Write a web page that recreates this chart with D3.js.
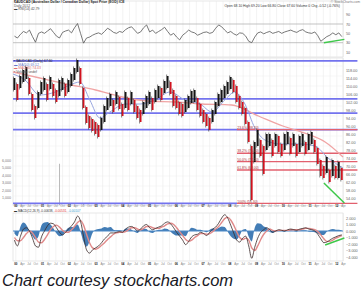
<!DOCTYPE html>
<html>
<head>
<meta charset="utf-8">
<script src="https://cdn.jsdelivr.net/npm/d3@7"></script>
<style>
    html, body {margin: 0; padding: 0; background: #fff;}
    svg {display: block; font-family: "Liberation Sans", Arial, sans-serif;}
</style>
</head>
<body>
<div id="chart"></div>
<script>
// ---- data ----
// price bars (one bar every 41 days from Dec 1999), high / low
var barHigh = [114,111,115,118,119.5,114,106,100,107,112,114,111,114.5,111,108,113,114,111,113,116,
    119,123,119,109,99.5,95,93.5,92,90.5,94,100,104,106,103,107,104.5,101,107,104,107,
    103,100,98,102,105,107,104,108,110,109,112.5,115,112,108,105,102,101,103,105,107.5,
    108,104,101,98,96,94,98,102,106,108,110,112,114.5,113,110,105,102,99,92,80,
    82,88,83,80,86,86,83,86,85,81,86,87,84,86,81,85,86,82,86,87,
    83,79,73,70,74.5,68,73,70,72,69];
var barLow = [108,103,109,112,113.5,106,98,94,99,106,108,103,108.5,105,102,105,108,105,107,110,
    113,117,111,99,91.5,89,87.5,86,84.5,88,92,98,100,97,101,98.5,95,99,98,101,
    97,94,92,96,99,101,98,102,104,103,106.5,109,106,100,99,96,95,97,99,101.5,
    102,98,95,92,90,88,92,96,100,102,104,106,108.5,107,102,99,96,91,82,53,
    72,80,75,66,78,80,75,80,77,75,78,81,76,80,75,77,80,76,78,81,
    77,71,65,64,66.5,62,65,64,64,63];
var volIdx = [15, 23, 78, 79];
var volVal = [5500, 150, 200, 300];

// moving averages (anchor dates + values)
var ma200Dates = ["1999-12-01","2000-12-01","2001-12-01","2003-01-01","2004-01-01","2004-12-15","2006-01-15",
    "2006-12-25","2008-02-01","2009-02-01","2010-01-01","2010-12-01","2011-08-01","2012-04-01"];
var ma200 = [117,114,111,108,104.5,102.5,102,101,100.5,95,90,86,82,74.5];
var ma50Dates = ["1999-12-01","2000-05-12","2000-12-01","2001-07-01","2002-01-15","2002-06-01","2002-10-15",
    "2003-03-01","2003-07-15","2004-02-10","2004-09-01","2005-03-20","2005-10-15","2006-05-05","2006-11-28",
    "2007-05-10","2007-11-01","2008-03-15","2008-08-01","2008-12-15","2009-05-01","2009-11-25","2010-08-20",
    "2011-03-15","2011-09-10","2012-04-01"];
var ma50 = [116,113,105.5,107,110.5,112,103,94,97,101,101,103,107,103,101,97,103,107,101,89,83,81,81,80,74,69];

// horizontal levels
var blueLevels = [122.6, 103.6, 96.4, 88.2];
var blueLow = 51.3;
var redLevels = [88.2, 76.4, 72.2, 68.0, 51.3];
var fibNames = ["23.6%", "38.2%", "50.0%", "61.8%", "100%"];
var trendMain = [["2011-07-15", 61.5], ["2012-04-20", 51.5]];

// RSI(14)
var rsi = [44,40,48,54,51,57,43,31,50,53,50,55,60,52,44,40,52,55,57,51,
    62,71,50,29,40,42,46,49,51,48,54,61,57,52,50,54,52,58,62,64,
    57,50,53,62,68,53,57,50,54,58,63,54,46,50,42,36,46,51,57,53,
    51,46,49,52,53,50,52,61,68,64,57,51,54,49,46,51,50,44,33,30,
    42,51,53,49,52,54,50,52,54,50,53,55,57,54,52,56,58,53,51,50,
    53,45,33,38,43,46,51,47,51,43];
var rsiTicks = [90, 70, 50, 30, 10];
var trendRsi = [["2011-07-15", 30], ["2012-04-20", 37]];

// MACD(12,26,9)
var macd = [-1.4,-2.3,-0.8,0.3,0.5,0,-1.1,-2.3,-2.5,-0.9,0,0.8,1.2,1.1,0.5,-0.2,-0.6,-0.2,0.3,0.8,
    1.4,2.3,1.5,-0.8,-2.9,-3.4,-2.9,-2.6,-2.3,-1.8,-1.2,-0.8,-0.3,-0.3,-0.2,-0.1,-0.2,0.3,0.6,0.7,
    0.4,0,0.3,0.8,1.0,0.5,0.2,0.4,0.6,0.8,1.2,1.4,1.1,0.5,-0.2,-0.8,-1.4,-2.1,-1.6,-0.9,
    -0.6,-0.5,-0.2,-0.4,-0.7,-0.2,0.3,0.6,1.2,2.0,2.5,2.0,0.9,-0.3,-1.4,-1.7,-1.1,-0.8,-2.3,-4.2,
    -2.5,-1.1,-0.2,0.2,0.5,0.2,-0.2,0,0.2,0.1,0,0.2,0.3,0.2,0.1,0.3,0.4,0.5,0.3,0.2,
    0,-0.5,-1.2,-1.8,-1.7,-1.4,-1.1,-0.9,-0.7,-0.6];
var signal = [-1.0,-1.5,-1.5,-1.0,-0.4,0,-0.3,-1.0,-1.7,-1.8,-1.3,-0.6,0.2,0.7,0.9,0.6,0.1,-0.2,-0.2,0.2,
    0.7,1.3,1.6,0.9,-0.5,-1.8,-2.6,-2.8,-2.6,-2.2,-1.8,-1.3,-0.9,-0.5,-0.3,-0.2,-0.2,-0.1,0.2,0.5,
    0.5,0.3,0.2,0.4,0.7,0.7,0.5,0.4,0.4,0.6,0.8,1.1,1.2,1.0,0.5,-0.1,-0.7,-1.3,-1.6,-1.4,
    -1.0,-0.7,-0.4,-0.4,-0.5,-0.4,-0.1,0.3,0.7,1.3,1.9,2.1,1.7,0.9,-0.1,-1.0,-1.3,-1.1,-1.4,-2.6,
    -3.0,-2.3,-1.3,-0.5,0,0.3,0.1,0,0.1,0.1,0.1,0.1,0.2,0.2,0.2,0.2,0.3,0.4,0.4,0.3,
    0.2,-0.1,-0.6,-1.2,-1.6,-1.6,-1.4,-1.1,-0.9,-0.7];
var macdTicks = [2, 1, 0, -1, -2, -3, -4];
var trendMacd = [["2011-08-01", -2.15], ["2012-04-20", -1.08]];

var volTicks = [1000, 2000, 3000, 4000, 5000, 6000];

window.onload = function () {
    var W = 364, H = 291;
    var left = 13, right = 343;
    var parse = d3.timeParse("%Y-%m-%d");

    var svg = d3.select("#chart").append("svg")
        .attr("width", W).attr("height", H);

    var x = d3.scaleTime()
        .domain([new Date(1999, 11, 1), new Date(2012, 3, 1)])
        .range([left, right]);
    var lineEnd = new Date(2012, 9, 15);
    var barDates = d3.range(barHigh.length).map(function (i) {
        return d3.timeDay.offset(new Date(1999, 11, 21), i * 41);
    });

    // panels
    var rsiTop = 1, rsiBot = 57, mTop = 58, mBot = 205.5, cTop = 213, cBot = 261;
    var yR = d3.scaleLinear().domain([0, 100]).range([56.7, 10]);
    var yP = d3.scaleLinear().domain([50, 124]).range([206, 58]);
    var yV = d3.scaleLinear().domain([0, 6000]).range([205, 160]);
    var yM = d3.scaleLinear().domain([0, 1]).range([231, 224.5]);

    function panel(t, b) {
        var g = svg.append("g");
        g.append("rect").attr("x", left).attr("y", t).attr("width", right - left).attr("height", b - t)
            .attr("fill", "#fff").attr("stroke", "#d8d8d8").attr("stroke-width", 0.6);
        // vertical grid, one line per quarter
        g.append("g")
            .attr("transform", "translate(0," + b + ")")
            .call(d3.axisBottom(x).ticks(d3.timeMonth.every(3)).tickSize(-(b - t)).tickFormat(""))
            .call(function (a) {
                a.select(".domain").remove();
                a.selectAll("text").remove();
                a.selectAll("line").attr("stroke", "#e6e6e6").attr("stroke-width", 0.5);
            });
        return g;
    }
    function dateLabels(yy) {
        svg.append("g")
            .attr("transform", "translate(0," + yy + ")")
            .call(d3.axisBottom(x).ticks(d3.timeMonth.every(3)).tickSize(0).tickPadding(0)
                .tickFormat(function (d) {
                    return d.getMonth() === 0 ? d3.timeFormat("%y")(d) : d3.timeFormat("%b")(d);
                }))
            .call(function (a) {
                a.select(".domain").remove();
                a.selectAll("text").attr("font-size", 2.9).attr("font-family", "Liberation Sans")
                    .attr("fill", function (d) { return d.getMonth() === 0 ? "#111" : "#888"; })
                    .attr("font-weight", function (d) { return d.getMonth() === 0 ? "bold" : "normal"; });
            });
    }
    function rightLabels(scale, ticks, fmt) {
        svg.append("g")
            .attr("transform", "translate(" + (right + 2) + ",0)")
            .call(d3.axisRight(scale).tickValues(ticks).tickSize(0).tickPadding(1).tickFormat(fmt))
            .call(function (a) {
                a.select(".domain").remove();
                a.selectAll("text").attr("font-size", 3.8).attr("fill", "#666")
                    .attr("font-family", "Liberation Sans");
            });
    }
    function tiny(t, xx, yy, col, bold, anchor) {
        return svg.append("text").attr("x", xx).attr("y", yy).attr("font-size", 3.4)
            .attr("fill", col || "#333").attr("font-weight", bold ? "bold" : "normal")
            .attr("text-anchor", anchor || "start").text(t);
    }

    // ---------- RSI panel ----------
    var gR = panel(rsiTop, rsiBot);
    [70, 30].forEach(function (v) {
        gR.append("line").attr("x1", left).attr("x2", right).attr("y1", yR(v)).attr("y2", yR(v))
            .attr("stroke", "#aaa").attr("stroke-width", 0.7);
    });
    gR.append("path").datum(rsi)
        .attr("d", d3.line().x(function (d, i) { return x(barDates[i]); }).y(function (d) { return yR(d); }))
        .attr("fill", "none").attr("stroke", "#555").attr("stroke-width", 0.8);
    gR.append("path").datum(trendRsi)
        .attr("d", d3.line().x(function (d) { return x(parse(d[0])); }).y(function (d) { return yR(d[1]); }))
        .attr("stroke", "#3ec84a").attr("stroke-width", 1.4);
    rightLabels(yR, rsiTicks, d3.format("d"));
    tiny("$AUDCAD (Australian Dollar / Canadian Dollar) Spot Price (EOD) ICE", 14, 3.4, "#222", true);
    tiny("Daily 2012", 14, 6.6, "#555");
    tiny("\u25AC RSI(14) 42.79", 14, 9.6, "#444");
    tiny("Open 68.10  High 69.20  Low 66.80  Close 67.60  Volume 0  Chg -0.52 (-0.76%)", 340, 6.6, "#333", false, "end");
    tiny("\u00A9 StockCharts.com", 360, 3.4, "#777", false, "end");

    // ---------- price panel ----------
    var gP = panel(mTop, mBot);
    yP.ticks(20).forEach(function (v) {
        gP.append("line").attr("x1", left).attr("x2", right).attr("y1", yP(v)).attr("y2", yP(v))
            .attr("stroke", "#ececec").attr("stroke-width", 0.5);
    });
    // volume
    gP.selectAll(".vol").data(volIdx).enter().append("rect")
        .attr("x", function (d) { return x(barDates[d]) - 0.5; })
        .attr("width", 1)
        .attr("y", function (d, k) { return yV(volVal[k]); })
        .attr("height", function (d, k) { return yV(0) - yV(volVal[k]); })
        .attr("fill", "#bbb");
    svg.append("g")
        .attr("transform", "translate(12,0)")
        .call(d3.axisLeft(yV).tickValues(volTicks).tickSize(0).tickPadding(1))
        .call(function (a) {
            a.select(".domain").remove();
            a.selectAll("text").attr("font-size", 3.6).attr("fill", "#777");
        });
    // support / resistance lines
    blueLevels.forEach(function (v) {
        gP.append("line").attr("x1", left).attr("x2", x(lineEnd)).attr("y1", yP(v)).attr("y2", yP(v))
            .attr("stroke", "#7373ee").attr("stroke-width", 1.8);
    });
    gP.append("line").attr("x1", left).attr("x2", x(new Date(2008, 3, 15)))
        .attr("y1", yP(blueLow)).attr("y2", yP(blueLow))
        .attr("stroke", "#7373ee").attr("stroke-width", 1.8);
    redLevels.forEach(function (v, k) {
        gP.append("line").attr("x1", x(new Date(2008, 3, 15))).attr("x2", x(lineEnd))
            .attr("y1", yP(v)).attr("y2", yP(v))
            .attr("stroke", "#e2606e").attr("stroke-width", 1.4);
        tiny(fibNames[k] + " (" + v.toFixed(2) + ")", x(new Date(2008, 3, 20)), yP(v) - 0.9, "#a33");
    });
    // moving averages
    gP.append("path").datum(ma200)
        .attr("d", d3.line().curve(d3.curveMonotoneX)
            .x(function (d, i) { return x(parse(ma200Dates[i])); }).y(function (d) { return yP(d); }))
        .attr("fill", "none").attr("stroke", "#f0a4a4").attr("stroke-width", 1.3);
    gP.append("path").datum(ma50)
        .attr("d", d3.line().curve(d3.curveMonotoneX)
            .x(function (d, i) { return x(parse(ma50Dates[i])); }).y(function (d) { return yP(d); }))
        .attr("fill", "none").attr("stroke", "#98a6e0").attr("stroke-width", 1);
    // price bars: thin wick + body
    gP.selectAll(".wick").data(barDates).enter().append("line")
        .attr("x1", function (d) { return x(d) - 1; })
        .attr("x2", function (d) { return x(d) - 1; })
        .attr("y1", function (d, i) { return yP(barHigh[i]) - 1.5; })
        .attr("y2", function (d, i) { return yP(barLow[i]) + 1.5; })
        .attr("stroke", "#333").attr("stroke-width", 0.6);
    gP.selectAll(".bar").data(barDates).enter().append("rect")
        .attr("x", function (d) { return x(d) - 0.8; })
        .attr("width", 1.7)
        .attr("y", function (d, i) { return yP(barHigh[i]); })
        .attr("height", function (d, i) { return yP(barLow[i]) - yP(barHigh[i]); })
        .attr("fill", function (d, i) {
            return i > 0 && barHigh[i] + barLow[i] < barHigh[i - 1] + barLow[i - 1] ? "#d0121e" : "#151515";
        });
    gP.append("path").datum(trendMain)
        .attr("d", d3.line().x(function (d) { return x(parse(d[0])); }).y(function (d) { return yP(d[1]); }))
        .attr("stroke", "#3ec84a").attr("stroke-width", 1.5);
    rightLabels(yP, d3.range(54, 122, 4), d3.format(".2f"));
    tiny("\u25AA $AUDCAD (Daily) 67.60", 14, 62.4, "#222");
    tiny("\u25AC MA(50) 69.12", 14, 65.8, "#6677cc");
    tiny("\u25AC MA(200) 74.43", 14, 69.2, "#e07070");
    tiny("\u25AA Volume undef", 14, 72.6, "#555");
    dateLabels(205.2);

    // ---------- MACD panel ----------
    var gC = panel(cTop, cBot);
    var hist = macd.map(function (d, i) { return d - signal[i]; });
    gC.append("path").datum(hist)
        .attr("d", d3.area().curve(d3.curveMonotoneX)
            .x(function (d, i) { return x(barDates[i]); }).y0(yM(0)).y1(function (d) { return yM(d); }))
        .attr("fill", "#2f6fae").attr("opacity", 0.9);
    gC.append("line").attr("x1", left).attr("x2", right).attr("y1", yM(0)).attr("y2", yM(0))
        .attr("stroke", "#4d8ac8").attr("stroke-width", 1.2);
    gC.append("path").datum(signal)
        .attr("d", d3.line().curve(d3.curveMonotoneX)
            .x(function (d, i) { return x(barDates[i]); }).y(function (d) { return yM(d); }))
        .attr("fill", "none").attr("stroke", "#e08a8a").attr("stroke-width", 1.4);
    gC.append("path").datum(macd)
        .attr("d", d3.line().curve(d3.curveMonotoneX)
            .x(function (d, i) { return x(barDates[i]); }).y(function (d) { return yM(d); }))
        .attr("fill", "none").attr("stroke", "#3a2a2a").attr("stroke-width", 0.8);
    gC.append("path").datum(trendMacd)
        .attr("d", d3.line().x(function (d) { return x(parse(d[0])); }).y(function (d) { return yM(d[1]); }))
        .attr("stroke", "#3ec84a").attr("stroke-width", 1.4);
    rightLabels(yM, macdTicks, d3.format(".3f"));
    var leg = tiny("\u25AC MACD(12,26,9) -0.00638, ", 14, 212, "#333").attr("font-size", 3.1);
    leg.append("tspan").attr("fill", "#d33").text("-0.00531, ");
    leg.append("tspan").attr("fill", "#39c").text("-0.00107");
    dateLabels(262.5);

    // footer
    svg.append("text")
        .attr("x", 2).attr("y", 286)
        .attr("font-size", 16.5).attr("font-style", "italic")
        .attr("font-family", "Liberation Sans, Arial, sans-serif")
        .attr("fill", "#1a1a26")
        .text("Chart courtesy stockcharts.com");
};
</script>
</body>
</html>
